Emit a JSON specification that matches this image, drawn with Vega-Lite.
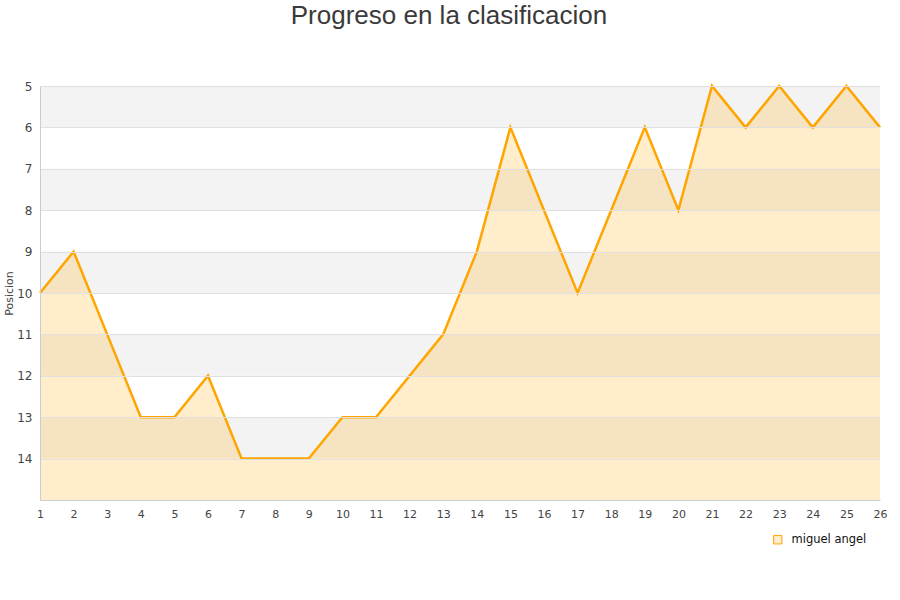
{
  "$schema": "https://vega.github.io/schema/vega-lite/v6.json",
  "width": 840,
  "height": 414,
  "autosize": "none",
  "padding": {"left": 40, "top": 86, "right": 20, "bottom": 100},
  "background": "white",
  "title": {
    "text": "Progreso en la clasificacion",
    "fontSize": 26,
    "font": "Liberation Sans",
    "fontWeight": "normal",
    "color": "#3a3a3a",
    "anchor": "middle",
    "dx": -11,
    "offset": 51
  },
  "config": {
    "view": {"stroke": null},
    "font": "DejaVu Sans",
    "axisX": {"labelOverlap": false, "labelFlush": false}
  },
  "datasets": {
    "bands": [
      {"desde": 5, "hasta": 6},
      {"desde": 7, "hasta": 8},
      {"desde": 9, "hasta": 10},
      {"desde": 11, "hasta": 12},
      {"desde": 13, "hasta": 14}
    ],
    "progreso": [
      {"jornada": 1, "posicion": 10, "jugador": "miguel angel"},
      {"jornada": 2, "posicion": 9, "jugador": "miguel angel"},
      {"jornada": 3, "posicion": 11, "jugador": "miguel angel"},
      {"jornada": 4, "posicion": 13, "jugador": "miguel angel"},
      {"jornada": 5, "posicion": 13, "jugador": "miguel angel"},
      {"jornada": 6, "posicion": 12, "jugador": "miguel angel"},
      {"jornada": 7, "posicion": 14, "jugador": "miguel angel"},
      {"jornada": 8, "posicion": 14, "jugador": "miguel angel"},
      {"jornada": 9, "posicion": 14, "jugador": "miguel angel"},
      {"jornada": 10, "posicion": 13, "jugador": "miguel angel"},
      {"jornada": 11, "posicion": 13, "jugador": "miguel angel"},
      {"jornada": 12, "posicion": 12, "jugador": "miguel angel"},
      {"jornada": 13, "posicion": 11, "jugador": "miguel angel"},
      {"jornada": 14, "posicion": 9, "jugador": "miguel angel"},
      {"jornada": 15, "posicion": 6, "jugador": "miguel angel"},
      {"jornada": 16, "posicion": 8, "jugador": "miguel angel"},
      {"jornada": 17, "posicion": 10, "jugador": "miguel angel"},
      {"jornada": 18, "posicion": 8, "jugador": "miguel angel"},
      {"jornada": 19, "posicion": 6, "jugador": "miguel angel"},
      {"jornada": 20, "posicion": 8, "jugador": "miguel angel"},
      {"jornada": 21, "posicion": 5, "jugador": "miguel angel"},
      {"jornada": 22, "posicion": 6, "jugador": "miguel angel"},
      {"jornada": 23, "posicion": 5, "jugador": "miguel angel"},
      {"jornada": 24, "posicion": 6, "jugador": "miguel angel"},
      {"jornada": 25, "posicion": 5, "jugador": "miguel angel"},
      {"jornada": 26, "posicion": 6, "jugador": "miguel angel"}
    ]
  },
  "layer": [
    {
      "data": {"name": "bands"},
      "mark": {"type": "rect", "fill": "#f3f3f3"},
      "encoding": {
        "y": {
          "field": "desde", "type": "quantitative",
          "scale": {"domain": [5, 15], "reverse": true, "nice": false, "zero": false},
          "axis": {
            "title": "Posicion", "titleFontSize": 11, "titleFontWeight": "normal", "titleColor": "#444444",
            "titlePadding": 2, "zindex": 1,
            "values": [5,6,7,8,9,10,11,12,13,14], "ticks": false,
            "gridColor": "#e0e0e0", "domainColor": "#cccccc", "labelColor": "#444444",
            "labelFontSize": 12, "labelPadding": 8
          }
        },
        "y2": {"field": "hasta"}
      }
    },
    {
      "data": {"name": "progreso"},
      "mark": {"type": "area", "fill": "#ffa500", "fillOpacity": 0.2},
      "encoding": {
        "x": {
          "field": "jornada", "type": "quantitative",
          "scale": {"domain": [1, 26], "nice": false, "zero": false},
          "axis": {
            "title": null, "tickCount": 26, "tickMinStep": 1,
            "grid": false, "ticks": false, "domainColor": "#cccccc", "labelColor": "#444444",
            "labelFontSize": 11, "labelPadding": 8, "format": "d", "labelOverlap": false, "labelFlush": false, "zindex": 1
          }
        },
        "y": {"field": "posicion", "type": "quantitative"},
        "y2": {"datum": 15}
      }
    },
    {
      "data": {"name": "progreso"},
      "mark": {"type": "line", "strokeWidth": 2.5},
      "encoding": {
        "x": {"field": "jornada", "type": "quantitative"},
        "y": {"field": "posicion", "type": "quantitative"},
        "color": {
          "field": "jugador", "type": "nominal",
          "scale": {"range": ["#ffa500"]},
          "legend": {
            "title": null, "orient": "none", "legendX": 732, "legendY": 448,
            "symbolType": "square", "symbolFillColor": "#ffedcc", "symbolStrokeColor": "#c8a060",
            "symbolStrokeWidth": 1, "symbolSize": 70, "labelFontSize": 11.5, "labelColor": "#111111",
            "labelOffset": 8
          }
        }
      }
    }
  ]
}
